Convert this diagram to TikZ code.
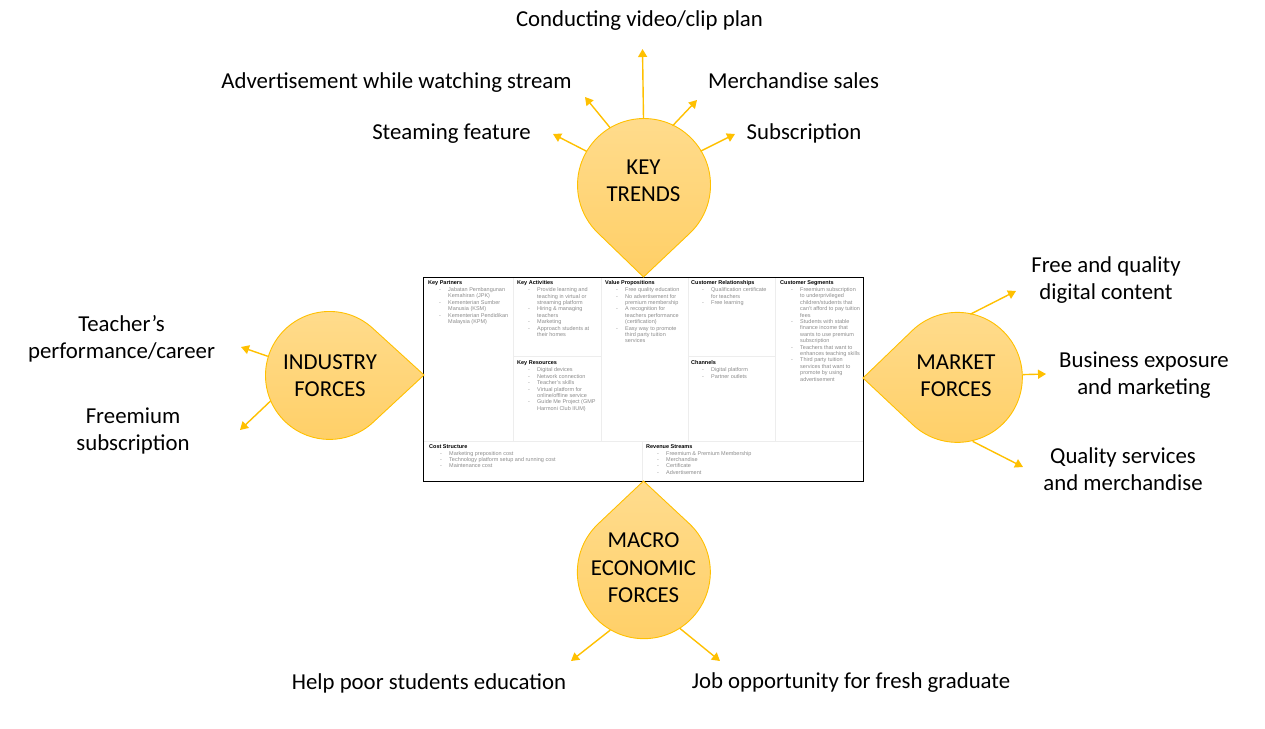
\documentclass[tikz,border=0pt]{standalone}
\usepackage{fontspec}
\setmainfont{Carlito}
\newfontfamily\bmcfont{Liberation Sans}
\usetikzlibrary{positioning,arrows.meta}
\definecolor{gold}{HTML}{FFC000}
\definecolor{droptop}{HTML}{FFDC8E}
\definecolor{dropbot}{HTML}{FFCF66}
\definecolor{bmcgray}{HTML}{8C8C8C}
\definecolor{bmcrule}{HTML}{EDEDED}
\tikzset{
  trendarrow/.style={-{Triangle[length=8pt,width=9pt]}, color=gold, line width=1.4pt},
  dropshape/.style={draw=gold, line width=0.9pt, top color=droptop, bottom color=dropbot},
  dropcirc/.style={circle, inner sep=0pt, outer sep=0pt},
  droptext/.style={align=center, font=\fontsize{22.8}{27.5}\selectfont},
  forcelabel/.style={align=center, anchor=base, font=\fontsize{22.8}{27.8}\selectfont},
  bmctext/.style={anchor=north west, inner sep=0pt, align=left, text=bmcgray, font=\bmcfont\fontsize{5.5}{6.4}\selectfont},
  bmcline/.style={draw=bmcrule, line width=0.6pt}
}
\newcommand{\bmchead}[1]{\textcolor{black}{\bfseries #1}}
\newcommand{\bmcitem}{\hspace*{11pt}\makebox[9pt][l]{-}}
\newcommand{\bmcmore}{\hspace*{20pt}}

\begin{document}
\begin{tikzpicture}[x=1pt, y=1pt]
  \useasboundingbox (0,0) rectangle (1265,-728);

  % business model canvas
  \node[fill=white, minimum width=440pt, minimum height=204pt, inner sep=0pt, outer sep=0pt, anchor=north west] (bmc) at (423,-277) {};
  \foreach \dx in {90,178,265,352}
    \draw[bmcline] ([xshift=\dx pt]bmc.north west) -- ++(0,-164);
  \draw[bmcline] ([yshift=-164pt]bmc.north west) -- ++(440,0);
  \draw[bmcline] ([shift={(90pt,-79pt)}]bmc.north west) -- ++(88,0);
  \draw[bmcline] ([shift={(265pt,-79pt)}]bmc.north west) -- ++(87,0);
  \draw[bmcline] ([shift={(219pt,-164pt)}]bmc.north west) -- ++(0,-40);
  \draw[black, line width=0.9pt] (bmc.north west) rectangle (bmc.south east);

  \node[bmctext] (kp) at (428,-280.5) {\bmchead{Key Partners}\\[0.6pt]
    \bmcitem Jabatan Pembangunan\\\bmcmore Kemahiran (JPK)\\
    \bmcitem Kementerian Sumber\\\bmcmore Manusia (KSM)\\
    \bmcitem Kementerian Pendidikan\\\bmcmore Malaysia (KPM)};
  \node[bmctext] (ka) at (517,-280.5) {\bmchead{Key Activities}\\[0.6pt]
    \bmcitem Provide learning and\\\bmcmore teaching in virtual or\\\bmcmore streaming platform\\
    \bmcitem Hiring \& managing\\\bmcmore teachers\\
    \bmcitem Marketing\\
    \bmcitem Approach students at\\\bmcmore their homes};
  \node[bmctext] (kr) at (517,-361) {\bmchead{Key Resources}\\[0.6pt]
    \bmcitem Digital devices\\
    \bmcitem Network connection\\
    \bmcitem Teacher’s skills\\
    \bmcitem Virtual platform for\\\bmcmore online/offline service\\
    \bmcitem Guide Me Project (GMP\\\bmcmore Harmoni Club IIUM)};
  \node[bmctext] (vp) at (605,-280.5) {\bmchead{Value Propositions}\\[0.6pt]
    \bmcitem Free quality education\\
    \bmcitem No advertisement for\\\bmcmore premium membership\\
    \bmcitem A recognition for\\\bmcmore teachers performance\\\bmcmore (certification)\\
    \bmcitem Easy way to promote\\\bmcmore third party tuition\\\bmcmore services};
  \node[bmctext] (cr) at (691,-280.5) {\bmchead{Customer Relationships}\\[0.6pt]
    \bmcitem Qualification certificate\\\bmcmore for teachers\\
    \bmcitem Free learning};
  \node[bmctext] (ch) at (691,-360.5) {\bmchead{Channels}\\[0.6pt]
    \bmcitem Digital platform\\
    \bmcitem Partner outlets};
  \node[bmctext] (cs) at (780,-280.5) {\bmchead{Customer Segments}\\[0.6pt]
    \bmcitem Freemium subscription\\\bmcmore to underprivileged\\\bmcmore children/students that\\\bmcmore can’t afford to pay tuition\\\bmcmore fees\\
    \bmcitem Students with stable\\\bmcmore finance income that\\\bmcmore wants to use premium\\\bmcmore subscription\\
    \bmcitem Teachers that want to\\\bmcmore enhances teaching skills\\
    \bmcitem Third party tuition\\\bmcmore services that want to\\\bmcmore promote by using\\\bmcmore advertisement};
  \node[bmctext] (cost) at (429,-444) {\bmchead{Cost Structure}\\[0.6pt]
    \bmcitem Marketing preposition cost\\
    \bmcitem Technology platform setup and running cost\\
    \bmcitem Maintenance cost};
  \node[bmctext] (rev) at (646,-444) {\bmchead{Revenue Streams}\\[0.6pt]
    \bmcitem Freemium \& Premium Membership\\
    \bmcitem Merchandise\\
    \bmcitem Certificate\\
    \bmcitem Advertisement};

  % key trends
  \node[dropcirc, minimum size=133pt] (kt) at (643.5,-185.5) {};
  \coordinate (kttip) at (643.5,-277);
  \path[dropshape] (kttip) -- (kt.-46.6) arc[start angle=-46.6, end angle=226.6, radius=66.5pt] -- cycle;
  \node[droptext] (kttxt) at (643.5,-181) {KEY\\TRENDS};

  % industry forces
  \node[dropcirc, minimum size=128pt] (ind) at (329,-375) {};
  \coordinate (indtip) at (424,-375);
  \path[dropshape] (indtip) -- (ind.47.6) arc[start angle=47.6, end angle=312.4, radius=64pt] -- cycle;
  \node[droptext] (indtxt) at (330,-375.5) {INDUSTRY\\FORCES};

  % market forces
  \node[dropcirc, minimum size=130pt] (mkt) at (958,-378) {};
  \coordinate (mkttip) at (863,-378);
  \path[dropshape] (mkttip) -- (mkt.226.8) arc[start angle=226.8, end angle=493.2, radius=65pt] -- cycle;
  \node[droptext] (mkttxt) at (956,-376) {MARKET\\FORCES};

  % macro economic forces
  \node[dropcirc, minimum size=133pt] (mac) at (643.5,-572.5) {};
  \coordinate (mactip) at (643.5,-481);
  \path[dropshape] (mactip) -- (mac.133.4) arc[start angle=133.4, end angle=406.6, radius=66.5pt] -- cycle;
  \node[droptext] (mactxt) at (643.5,-568) {MACRO\\ECONOMIC\\FORCES};

  % arrow ends
  \coordinate (kt1) at (642.5,-49);
  \coordinate (kt2) at (585,-97);
  \coordinate (kt3) at (697,-100);
  \coordinate (kt4) at (553,-134);
  \coordinate (kt5) at (735,-134);
  \coordinate (ind1) at (241,-347);
  \coordinate (ind2) at (240,-430);
  \coordinate (mkt1) at (1016,-291);
  \coordinate (mkt2) at (1046,-374);
  \coordinate (mkt3) at (1023,-467);
  \coordinate (mac1) at (571,-661);
  \coordinate (mac2) at (720,-661);

  \draw[trendarrow] (kt.90) -- (kt1);
  \draw[trendarrow] (kt.120) -- (kt2);
  \draw[trendarrow] (kt.64) -- (kt3);
  \draw[trendarrow] (kt.149) -- (kt4);
  \draw[trendarrow] (kt.31) -- (kt5);
  \draw[trendarrow] (ind.163) -- (ind1);
  \draw[trendarrow] (ind.204) -- (ind2);
  \draw[trendarrow] (mkt.79) -- (mkt1);
  \draw[trendarrow] (mkt.3.5) -- (mkt2);
  \draw[trendarrow] (mkt.283) -- (mkt3);
  \draw[trendarrow] (mac.240) -- (mac1);
  \draw[trendarrow] (mac.303) -- (mac2);

  % labels (base = last line)
  \node[forcelabel] (video) at (639.5,-27) {Conducting video/clip plan};
  \node[forcelabel] (advert) at (396.5,-88) {Advertisement while watching stream};
  \node[forcelabel] (merch) at (793.5,-88) {Merchandise sales};
  \node[forcelabel] (stream) at (451.5,-139) {Steaming feature};
  \node[forcelabel] (subs) at (804,-139) {Subscription};
  \node[forcelabel] (career) at (121.5,-358.8) {Teacher’s\\performance/career};
  \node[forcelabel] (freemium) at (133,-450.8) {Freemium\\subscription};
  \node[forcelabel] (content) at (1106,-299.8) {Free and quality\\digital content};
  \node[forcelabel] (exposure) at (1144,-394.8) {Business exposure\\and marketing};
  \node[forcelabel] (quality) at (1123,-490.8) {Quality services\\and merchandise};
  \node[forcelabel] (poor) at (429,-689) {Help poor students education};
  \node[forcelabel] (job) at (851,-688) {Job opportunity for fresh graduate};
\end{tikzpicture}
\end{document}
